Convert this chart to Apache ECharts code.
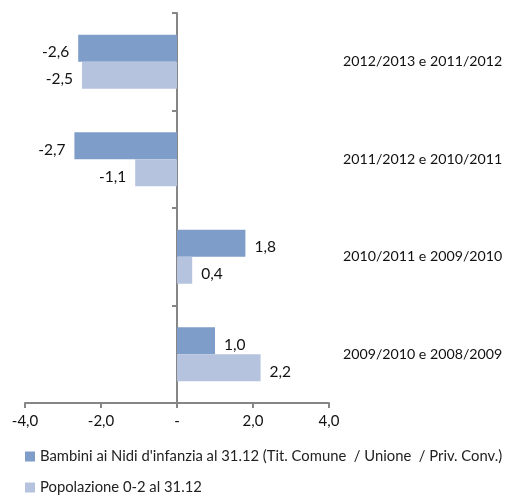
<!DOCTYPE html>
<html>
<head>
<meta charset="utf-8">
<script src="https://cdn.jsdelivr.net/npm/echarts@6/dist/echarts.min.js"></script>
<style>
  html, body { margin: 0; padding: 0; background: #fff; }
  #chart { width: 511px; height: 498px; }
</style>
</head>
<body>
<div id="chart"></div>
<script>
// categories from bottom to top (category axis starts at the bottom)
const categories = [
  "2009/2010 e 2008/2009",
  "2010/2011 e 2009/2010",
  "2011/2012 e 2010/2011",
  "2012/2013 e 2011/2012"
];
const bambini = [1.0, 1.8, -2.7, -2.6];
const popolazione = [2.2, 0.4, -1.1, -2.5];
const seriesNames = [
  "Bambini ai Nidi d'infanzia al 31.12 (Tit. Comune  / Unione  / Priv. Conv.)",
  "Popolazione 0-2 al 31.12"
];
const xTicks = [-4, -2, 0, 2, 4];

const fontFamily = "Lato, 'Open Sans', sans-serif";
const fmt = (v) => (v === 0 ? "-" : v.toFixed(1).replace(".", ","));

function withLabels(values) {
  return values.map((v) => ({
    value: v,
    label: { position: v < 0 ? "left" : "right" }
  }));
}

const legendBase = {
  left: 20,
  itemWidth: 10,
  itemHeight: 10,
  selectedMode: false,
  icon: "rect",
  textStyle: { fontSize: 14.8, color: "#222", fontFamily: fontFamily }
};

const chart = echarts.init(document.getElementById("chart"));
chart.setOption({
  animation: false,
  textStyle: { fontFamily: fontFamily },
  grid: { left: 25, right: 182, top: 13, bottom: 95, containLabel: false },
  legend: [
    Object.assign({}, legendBase, { top: 444, data: [seriesNames[0]] }),
    Object.assign({}, legendBase, { top: 475, data: [seriesNames[1]] })
  ],
  xAxis: {
    type: "value",
    min: xTicks[0],
    max: xTicks[xTicks.length - 1],
    interval: 2,
    splitLine: { show: false },
    axisLine: { show: true, onZero: false, lineStyle: { color: "#868686", width: 2 } },
    axisTick: { show: true, length: 5, lineStyle: { color: "#868686", width: 2 } },
    axisLabel: { formatter: fmt, fontSize: 15, color: "#111", margin: 11 }
  },
  yAxis: [
    {
      type: "category",
      data: categories,
      position: "left",
      axisLine: { show: true, onZero: true, lineStyle: { color: "#868686", width: 2 } },
      axisTick: { show: true, length: 5, lineStyle: { color: "#868686", width: 2 } },
      axisLabel: { show: false },
      splitLine: { show: false }
    },
    {
      type: "category",
      data: categories,
      position: "right",
      axisLine: { show: false },
      axisTick: { show: false },
      axisLabel: { show: true, fontSize: 14.2, color: "#111", margin: 14, align: "left" },
      splitLine: { show: false }
    }
  ],
  series: [
    {
      name: seriesNames[0],
      type: "bar",
      yAxisIndex: 0,
      data: withLabels(bambini),
      barWidth: 27,
      barGap: "0%",
      barCategoryGap: "43%",
      itemStyle: { color: "#7F9DC9" },
      label: { show: true, formatter: (p) => fmt(p.value), fontSize: 15.5, color: "#111", distance: 9, offset: [0, 4] }
    },
    {
      name: seriesNames[1],
      type: "bar",
      yAxisIndex: 0,
      data: withLabels(popolazione),
      barWidth: 27,
      barGap: "0%",
      barCategoryGap: "43%",
      itemStyle: { color: "#B5C3DF" },
      label: { show: true, formatter: (p) => fmt(p.value), fontSize: 15.5, color: "#111", distance: 9, offset: [0, 4] }
    }
  ]
});
</script>
</body>
</html>
